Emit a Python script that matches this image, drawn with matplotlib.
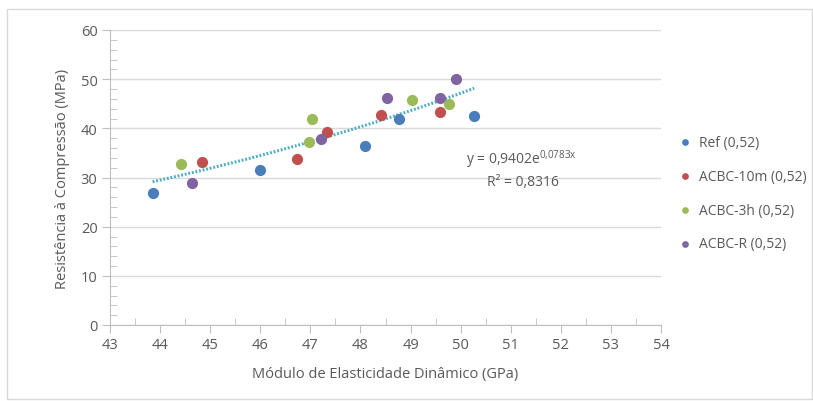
import numpy as np
import matplotlib.pyplot as plt
from matplotlib.patches import Rectangle
from matplotlib.ticker import MultipleLocator

plt.rcParams['font.family'] = ['Open Sans', 'DejaVu Sans']

# data
ref_x = [43.85, 46.0, 48.1, 48.77, 50.27]
ref_y = [26.8, 31.5, 36.4, 41.9, 42.5]
m10_x = [44.83, 46.73, 47.34, 48.42, 49.58]
m10_y = [33.2, 33.8, 39.2, 42.8, 43.3]
h3_x = [44.41, 46.97, 47.03, 49.03, 49.76]
h3_y = [32.8, 37.2, 41.9, 45.8, 45.0]
r_x = [44.64, 47.21, 48.53, 49.58, 49.91]
r_y = [28.9, 37.8, 46.1, 46.1, 50.0]

labels = ['Ref (0,52)', 'ACBC-10m (0,52)', 'ACBC-3h (0,52)', 'ACBC-R (0,52)']
colors = ['#4a7ebb', '#c0504d', '#9bbb59', '#8064a2']

# exponential trend y = a*exp(b*x)
a, b = 0.9402, 0.0783

txt = '#595959'
fig = plt.figure(figsize=(8.13, 4.02), dpi=100)
ax = fig.add_axes([110/813, 1-326/402, (661-110)/813, (326-31)/402])

series = [(ref_x, ref_y), (m10_x, m10_y), (h3_x, h3_y), (r_x, r_y)]
for (xs, ys), lab, c in zip(series, labels, colors):
    ax.scatter(xs, ys, s=65, color=c, label=lab, zorder=3, linewidths=0)

all_x = ref_x + m10_x + h3_x + r_x
tx = np.linspace(min(all_x), max(all_x), 100)
ax.plot(tx, a*np.exp(b*tx), color='#4bacc6', lw=2.2, ls=(0, (0.6, 0.6)), zorder=2)

ax.set_xlim(43, 54)
ax.set_ylim(0, 60)
ax.xaxis.set_major_locator(MultipleLocator(1))
ax.xaxis.set_minor_locator(MultipleLocator(0.5))
ax.yaxis.set_major_locator(MultipleLocator(10))
ax.yaxis.set_minor_locator(MultipleLocator(2))
ax.grid(axis='y', color='#d9d9d9', lw=1, zorder=0)
for s in ['top', 'right']:
    ax.spines[s].set_visible(False)
for s in ['left', 'bottom']:
    ax.spines[s].set_color('#bfbfbf')
ax.tick_params(axis='x', which='major', direction='out', length=6, color='#bfbfbf',
               labelsize=10.5, labelcolor=txt, pad=3)
ax.tick_params(axis='x', which='minor', direction='in', length=5, color='#bfbfbf')
ax.tick_params(axis='y', which='major', direction='out', length=6, color='#bfbfbf',
               labelsize=10.5, labelcolor=txt, pad=3)
ax.tick_params(axis='y', which='minor', direction='in', length=5, color='#bfbfbf')

ax.set_xlabel('Módulo de Elasticidade Dinâmico (GPa)', fontsize=10.5, color=txt, labelpad=10)
ax.set_ylabel('Resistência à Compressão (MPa)', fontsize=10.5, color=txt, labelpad=8)

ax.text(51.2, 33.8, r'y = 0,9402e$^{\mathregular{0{,}0783x}}$', fontsize=10, color=txt,
        ha='center', va='center')
ax.text(51.25, 29.1, 'R² = 0,8316', fontsize=10, color=txt, ha='center', va='center')

leg = ax.legend(loc='center left', bbox_to_anchor=(1.0, 0.447), frameon=False,
                fontsize=10, handletextpad=0.0, labelspacing=1.35, markerscale=0.6,
                borderaxespad=0.3)
for t in leg.get_texts():
    t.set_color(txt)

fig.patches.append(Rectangle((7/813, 2/402), (812-7)/813, (392-2)/402, transform=fig.transFigure,
                             fill=False, edgecolor='#d9d9d9', lw=1))

fig.savefig('out.png', dpi=100)
